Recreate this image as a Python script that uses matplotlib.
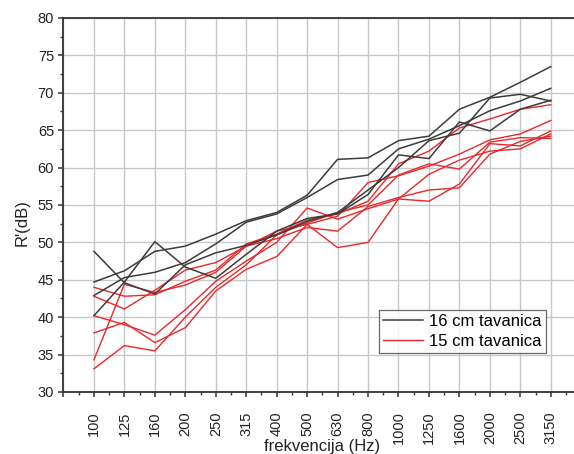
import matplotlib

matplotlib.use("Agg")
import matplotlib.pyplot as plt
from matplotlib.ticker import FixedLocator, MultipleLocator

plt.rcParams["font.family"] = ["Liberation Sans", "DejaVu Sans"]

# frequency bands (Hz)
freqs = ["100", "125", "160", "200", "250", "315", "400", "500",
         "630", "800", "1000", "1250", "1600", "2000", "2500", "3150"]

# R'(dB) measurements, 16 cm slab
r16_a = [44.7, 46.2, 48.8, 49.5, 51.1, 52.9, 54.0, 56.3, 61.1, 61.3, 63.6, 64.2, 67.8, 69.4, 71.4, 73.5]
r16_b = [42.9, 45.3, 46.0, 47.3, 49.8, 52.7, 53.8, 56.0, 58.4, 59.0, 62.5, 63.8, 65.6, 67.6, 68.9, 70.6]
r16_c = [40.2, 44.7, 50.1, 46.7, 45.2, 48.4, 51.5, 53.2, 53.8, 56.4, 61.7, 61.2, 66.1, 64.9, 67.8, 69.0]
r16_d = [48.8, 44.6, 43.1, 47.0, 48.6, 49.6, 51.0, 52.8, 54.0, 57.0, 60.0, 63.6, 64.6, 69.3, 69.8, 68.9]

# R'(dB) measurements, 15 cm slab
r15_a = [44.0, 42.8, 43.0, 44.8, 46.3, 49.8, 51.1, 53.0, 53.8, 55.5, 60.5, 62.2, 65.3, 66.5, 67.8, 68.4]
r15_b = [42.8, 41.1, 43.6, 46.3, 47.3, 49.5, 51.5, 52.4, 53.5, 58.0, 58.9, 60.2, 61.8, 63.7, 64.5, 66.3]
r15_c = [40.2, 39.0, 37.6, 41.0, 44.8, 47.5, 50.0, 54.6, 53.1, 54.5, 55.8, 55.5, 57.8, 63.2, 62.9, 64.9]
r15_d = [37.9, 39.3, 36.6, 38.6, 43.5, 46.4, 48.1, 52.4, 49.3, 50.0, 55.8, 59.1, 61.0, 62.2, 62.5, 64.5]
r15_e = [34.3, 44.4, 43.3, 44.3, 46.0, 49.5, 50.5, 52.0, 51.5, 54.8, 56.0, 57.0, 57.3, 61.8, 63.5, 64.2]
r15_f = [33.1, 36.2, 35.5, 40.0, 44.0, 47.0, 51.0, 52.6, 54.0, 55.0, 59.0, 60.5, 59.8, 63.4, 64.0, 63.9]

series_16 = [r16_a, r16_b, r16_c, r16_d]
series_15 = [r15_a, r15_b, r15_c, r15_d, r15_e, r15_f]

BLACK = "#3c3c3c"
RED = "#e8282b"

fig = plt.figure(figsize=(5.74, 4.54), dpi=100)
ax = fig.add_axes([0.1106, 0.1366, 0.902, 0.8238])

x = list(range(len(freqs)))
for i, ys in enumerate(series_16):
    ax.plot(x, ys, color=BLACK, lw=1.1, label="16 cm tavanica" if i == 0 else None, zorder=3)
for i, ys in enumerate(series_15):
    ax.plot(x, ys, color=RED, lw=1.0, label="15 cm tavanica" if i == 0 else None, zorder=2)

ax.set_xlim(-1, 16)
ax.set_ylim(30, 80)

ax.xaxis.set_major_locator(FixedLocator(list(range(-1, 16))))
ax.set_xticklabels([""] + freqs, rotation=90, fontsize=10.5, color="#222222")
ax.xaxis.set_minor_locator(FixedLocator([i + 0.5 for i in range(-1, 16)]))
ax.yaxis.set_major_locator(MultipleLocator(5))
ax.yaxis.set_minor_locator(MultipleLocator(2.5))
ax.tick_params(axis="y", labelsize=10.5, colors="#222222", pad=3)
ax.tick_params(axis="x", pad=10)
ax.tick_params(which="major", direction="out", length=3.8, width=1.1, color="#333333")
ax.tick_params(which="minor", direction="out", length=2.3, width=1.0, color="#333333")

ax.grid(which="major", color="#c8c8c8", lw=1.0, zorder=0)
ax.set_axisbelow(True)
for side in ["left", "bottom", "top", "right"]:
    ax.spines[side].set_color("#333333")
    ax.spines[side].set_linewidth(1.3)

fig.text(0.038, 1 - 223 / 454, "R'(dB)", rotation=90, fontsize=12, ha="center", va="center", color="#222222")
fig.text(322 / 574, 0.0, "frekvencija (Hz)", fontsize=12, ha="center", va="bottom", color="#222222")

leg = ax.legend(loc="upper left", bbox_to_anchor=(379 / 574, 1 - 310 / 454),
                bbox_transform=fig.transFigure, fontsize=12, frameon=True,
                fancybox=False, borderpad=0.25, handlelength=2.4, handletextpad=0.35,
                labelspacing=0.3, borderaxespad=0)
leg.get_frame().set_edgecolor("#444444")
leg.get_frame().set_linewidth(0.9)

fig.savefig("out.png", dpi=100)
